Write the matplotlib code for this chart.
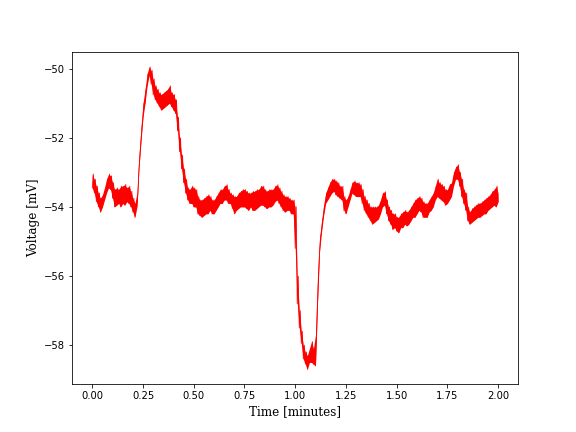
import numpy as np
import matplotlib
matplotlib.use("Agg")
import matplotlib.pyplot as plt

# --- Trace read from the recording: lower / upper edge of the noisy band, every 0.01 min ---
time_min = np.round(np.arange(0, 2.001, 0.01), 2)

v_low = [
    -53.45, -53.6, -53.85, -54.0, -54.15, -54.0, -53.8, -53.6, -53.45, -53.5,
    -53.75, -54.0, -53.95, -53.9, -54.0, -53.9, -53.95, -53.85, -53.9, -54.0,
    -54.15, -54.3, -54.0, -52.9, -52.1, -51.4, -51.0, -50.5, -50.2, -50.45,
    -50.75, -50.9, -51.0, -51.1, -51.2, -51.15, -51.1, -51.05, -51.0, -51.1,
    -51.2, -51.3, -51.8, -52.4, -52.9, -53.3, -53.6, -53.8, -53.9, -53.9,
    -54.0, -54.0, -54.2, -54.25, -54.3, -54.25, -54.2, -54.2, -54.1, -54.2,
    -54.2, -54.1, -54.0, -53.9, -53.9, -53.8, -53.8, -53.9, -53.9, -54.05,
    -54.2, -54.1, -54.05, -54.0, -54.0, -54.0, -54.05, -54.1, -54.0, -54.1,
    -54.1, -54.05, -54.0, -53.95, -53.95, -54.0, -54.05, -54.0, -54.0, -53.95,
    -53.85, -53.8, -53.9, -54.0, -54.1, -54.15, -54.1, -54.1, -54.2, -54.2,
    -55.2, -56.8, -57.5, -57.95, -58.4, -58.55, -58.7, -58.5, -58.5, -58.55,
    -58.6, -56.8, -55.3, -54.7, -54.25, -53.9, -53.8, -53.7, -53.6, -53.55,
    -53.65, -53.7, -53.75, -53.8, -54.1, -54.2, -54.0, -53.8, -53.6, -53.65,
    -53.7, -53.7, -53.7, -53.9, -54.1, -54.2, -54.3, -54.4, -54.5, -54.45,
    -54.4, -54.35, -54.2, -54.0, -53.95, -54.2, -54.4, -54.5, -54.65, -54.6,
    -54.7, -54.75, -54.6, -54.6, -54.5, -54.55, -54.5, -54.4, -54.3, -54.3,
    -54.2, -54.1, -54.15, -54.3, -54.3, -54.3, -54.15, -54.1, -54.0, -53.8,
    -53.7, -53.75, -53.8, -53.85, -53.95, -53.9, -53.8, -53.7, -53.4, -53.2,
    -53.2, -53.4, -53.7, -53.9, -54.1, -54.4, -54.5, -54.45, -54.4, -54.35,
    -54.3, -54.3, -54.25, -54.2, -54.2, -54.1, -54.05, -54.0, -53.95, -54.0,
    -53.85,
]

v_high = [
    -53.05, -53.2, -53.4, -53.6, -53.75, -53.65, -53.45, -53.2, -53.05, -53.1,
    -53.3, -53.5, -53.45, -53.5, -53.4, -53.4, -53.35, -53.45, -53.4, -53.55,
    -53.75, -53.9, -53.6, -52.5, -51.7, -51.0, -50.6, -50.15, -49.95, -50.05,
    -50.3, -50.5, -50.6, -50.7, -50.75, -50.7, -50.65, -50.6, -50.5, -50.7,
    -50.75, -50.9, -51.4, -52.0, -52.5, -52.9, -53.2, -53.45, -53.5, -53.4,
    -53.45, -53.5, -53.7, -53.8, -53.8, -53.75, -53.7, -53.65, -53.7, -53.8,
    -53.8, -53.7, -53.6, -53.5, -53.5, -53.4, -53.36, -53.5, -53.6, -53.65,
    -53.7, -53.7, -53.6, -53.55, -53.5, -53.5, -53.55, -53.6, -53.6, -53.55,
    -53.55, -53.5, -53.5, -53.4, -53.4, -53.5, -53.55, -53.5, -53.5, -53.5,
    -53.4, -53.36, -53.45, -53.55, -53.65, -53.7, -53.7, -53.75, -53.8, -53.8,
    -54.0, -56.0, -57.0, -57.6, -58.0, -58.2, -58.3, -58.1, -57.9, -58.1,
    -57.7, -56.0, -54.9, -54.4, -53.95, -53.6, -53.45, -53.3, -53.2, -53.2,
    -53.25, -53.3, -53.4, -53.4, -53.7, -53.8, -53.7, -53.5, -53.3, -53.25,
    -53.3, -53.3, -53.35, -53.5, -53.7, -53.8, -53.9, -54.0, -54.0, -54.0,
    -54.0, -53.95, -53.8, -53.6, -53.56, -53.8, -54.0, -54.1, -54.2, -54.2,
    -54.3, -54.3, -54.2, -54.15, -54.1, -54.15, -54.1, -54.0, -53.9, -53.8,
    -53.75, -53.7, -53.75, -53.85, -53.9, -53.9, -53.8, -53.7, -53.6, -53.4,
    -53.2, -53.3, -53.35, -53.4, -53.5, -53.5, -53.35, -53.3, -53.0, -52.85,
    -52.78, -53.0, -53.2, -53.5, -53.6, -54.0, -54.15, -54.05, -54.0, -53.95,
    -53.9, -53.9, -53.85, -53.8, -53.75, -53.7, -53.65, -53.55, -53.5, -53.4,
    -53.6,
]

# --- Interleave the two edges so the trace zig-zags like the noisy signal ---
t = np.empty(2 * len(time_min))
v = np.empty(2 * len(time_min))
t[0::2] = time_min
t[1::2] = time_min + 0.005
v[0::2] = v_low
v[1::2] = v_high
t, v = t[:-1], v[:-1]

fig, ax = plt.subplots(figsize=(8, 6), dpi=72)
# solid core of the noise band, then the zig-zag trace on top for the ragged edges
ax.fill_between(time_min, v_low, v_high, color="red", linewidth=0)
ax.plot(t, v, color="red", linewidth=0.8)

ax.set_xlabel("Time [minutes]", family="serif", fontsize=12)
ax.set_ylabel("Voltage [mV]", family="serif", fontsize=12)

plt.savefig("out.png", dpi=72)
plt.close()
